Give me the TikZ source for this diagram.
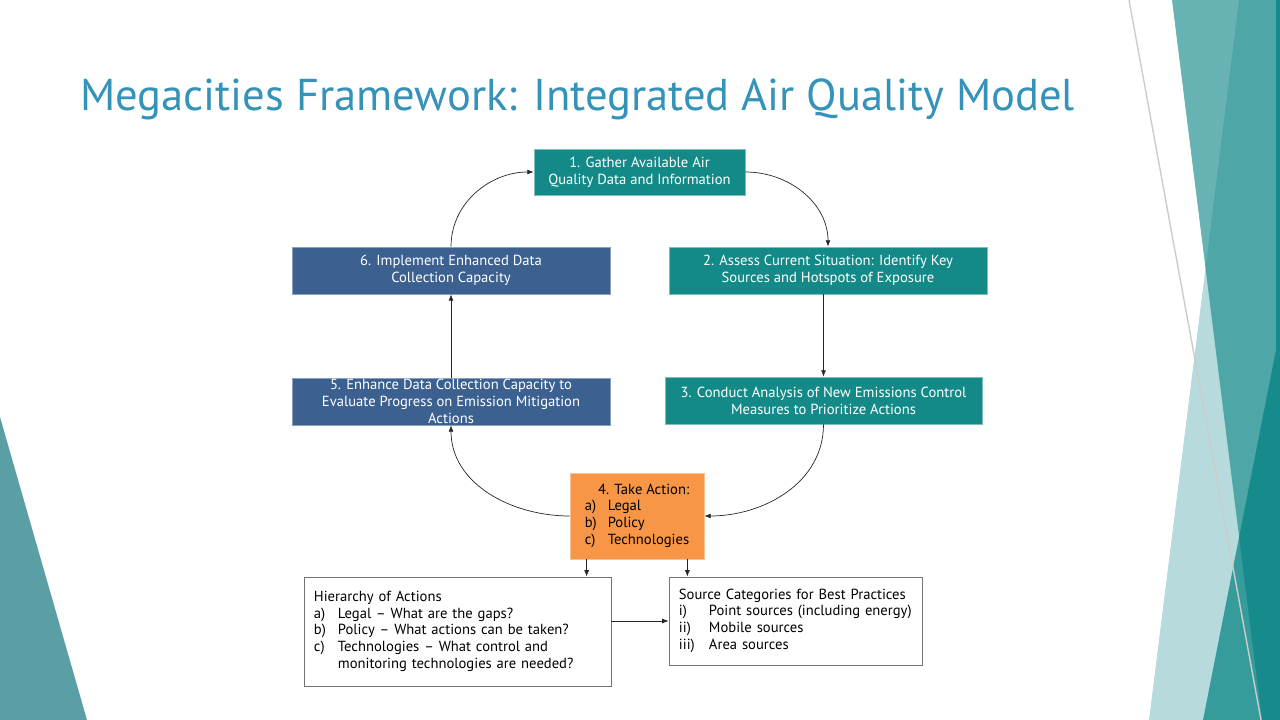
\documentclass[tikz,border=0pt]{standalone}
\usepackage{fontspec}
\setmainfont{PT Sans}
\usetikzlibrary{arrows.meta}

\definecolor{titleblue}{HTML}{3592B8}
\definecolor{boxteal}{HTML}{138A87}
\definecolor{boxblue}{HTML}{3C6191}
\definecolor{boxorange}{HTML}{F79646}
\definecolor{facetlight}{HTML}{B7DBDC}
\definecolor{facetmid}{HTML}{198C8D}
\definecolor{facetdark}{HTML}{008080}
\definecolor{facetleft}{HTML}{5A9FA5}
\newcommand{\boxfont}{\fontsize{10.4}{12}\selectfont}

\begin{document}
\begin{tikzpicture}[x=0.025cm,y=-0.025cm,
    tealbox/.style={fill=boxteal,draw=boxteal!55!white,line width=0.5pt,text=white,
      inner sep=0pt,align=center,font=\boxfont,minimum height=1.175cm},
    bluebox/.style={fill=boxblue,draw=boxblue!60!white,line width=0.5pt,text=white,
      inner sep=0pt,align=center,font=\boxfont,minimum width=7.95cm,minimum height=1.175cm},
    listbox/.style={fill=white,draw=black!55,line width=0.6pt,inner ysep=0pt,
      inner xsep=0.25cm,align=left,font=\boxfont},
    link/.style={black!85,line width=0.5pt,-{Latex[length=4.5pt,width=3.5pt]}}]

    \useasboundingbox (0,0) rectangle (1280,720);

    \fill[facetleft] (0,417) -- (0,720) -- (87,720) -- cycle;
    \fill[facetlight] (1239,0) -- (1280,0) -- (1280,720) -- (1149,720) -- cycle;
    \fill[facetmid,opacity=0.66] (1172,0) -- (1280,0) -- (1280,720) -- (1262,720) -- cycle;
    \fill[facetdark,opacity=0.7] (1276,0) -- (1280,0) -- (1280,720) -- (1203,720) -- (1276,350) -- cycle;
    \draw[black!20,line width=1pt] (1129,0) -- (1261,720);

    \node (title) at (80,111) [anchor=base west,text=titleblue,inner sep=0pt,
      font=\fontsize{31.7}{36}\selectfont] {Megacities Framework: Integrated Air Quality Model};

    \node (gather) at (639.5,172) [tealbox,minimum width=5.275cm,minimum height=1.15cm]
      {1. Gather Available Air\\Quality Data and Information};
    \node (assess) at (828,270.5) [tealbox,minimum width=7.95cm]
      {2. Assess Current Situation: Identify Key\\Sources and Hotspots of Exposure};
    \node (analysis) at (823.5,400.5) [tealbox,minimum width=7.925cm]
      {3. Conduct Analysis of New Emissions Control\\Measures to Prioritize Actions};
    \node (implement) at (451,270.5) [bluebox]
      {6. Implement Enhanced Data\\Collection Capacity};
    \node (enhance) at (451,401.5) [bluebox]
      {5. Enhance Data Collection Capacity to\\Evaluate Progress on Emission Mitigation\\Actions};
    \node (action) at (637,516) [fill=boxorange,draw=boxorange!60!white,line width=0.5pt,
      inner sep=0pt,minimum width=3.35cm,minimum height=2.15cm,font=\boxfont]
      {\begin{tabular}{@{}p{0.575cm}@{}l@{}}
        \multicolumn{2}{@{}r@{}}{4. Take Action:}\\
        a) & Legal\\
        b) & Policy\\
        c) & Technologies
      \end{tabular}};

    \node (hierarchy) at (457.5,631.5) [listbox,text width=7.175cm,minimum height=2.725cm]
      {\begin{tabular}{@{}p{0.6cm}@{}l@{}}
        \multicolumn{2}{@{}l@{}}{Hierarchy of Actions}\\
        a) & Legal -- What are the gaps?\\
        b) & Policy -- What actions can be taken?\\
        c) & Technologies -- What control and\\
           & monitoring technologies are needed?
      \end{tabular}};
    \node (sources) at (795.5,621) [listbox,text width=5.825cm,minimum height=2.2cm]
      {\begin{tabular}{@{}p{0.75cm}@{}l@{}}
        \multicolumn{2}{@{}l@{}}{Source Categories for Best Practices}\\
        i) & Point sources (including energy)\\
        ii) & Mobile sources\\
        iii) & Area sources
      \end{tabular}};

    \draw[link] (implement.north) to [out=90,in=180] (gather.west);
    \draw[link] (gather.east) to [out=0,in=90] (assess.north);
    \draw[link] (analysis.north |- assess.south) -- (analysis.north);
    \draw[link] (analysis.south) to [out=-90,in=0] (action.east);
    \draw[link] (action.west) to [out=180,in=-90] (enhance.south);
    \draw[link] (enhance.north) -- (implement.south);

    \draw[link] ([xshift=0.425cm]action.south west) -- ([xshift=0.425cm]action.south west |- hierarchy.north);
    \draw[link] ([xshift=-0.425cm]action.south east) -- ([xshift=-0.425cm]action.south east |- sources.north);
    \draw[link] (hierarchy.east |- sources.west) -- (sources.west);
\end{tikzpicture}
\end{document}
